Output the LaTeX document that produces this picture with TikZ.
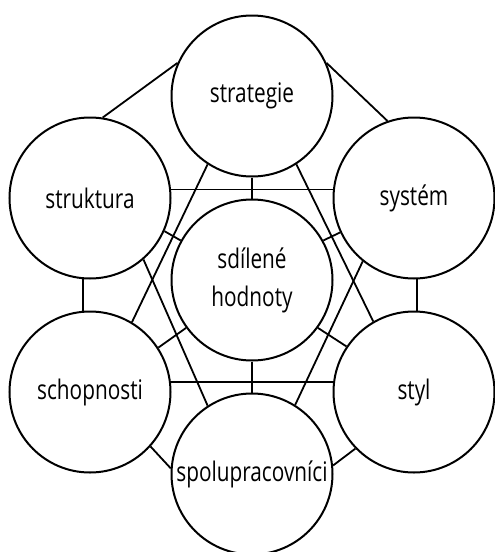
\documentclass[tikz,border=0pt]{standalone}
\usepackage{fontspec}
\setmainfont{Open Sans}[FakeStretch=0.77]
\usetikzlibrary{calc,positioning}

\begin{document}
\begin{tikzpicture}[x=1pt,y=-1pt]
    \def\circleSize{161pt}
    \def\labelFont{\fontsize{27}{38}\selectfont}

    \tikzstyle{element} = [draw, circle, line width=2pt, minimum size=\circleSize, inner sep=0pt, align=center, font=\labelFont]
    \tikzstyle{line} = [draw, line width=1.8pt]

    \useasboundingbox (0,0) rectangle (495,552);

    \node[element] (strategie) at (252,96) {strategie};
    \node[element] (struktura) at (90,198) {struktura};
    \node[element] (system) at (414,198) {systém};
    \node[element] (hodnoty) at (252,280) {sdílené\\hodnoty};
    \node[element] (schopnosti) at (90,392) {schopnosti};
    \node[element] (styl) at (414,392) {styl};
    \node[element] (spolupracovnici) at (252,474) {spolupracovníci};

    % outer ring
    \path [line] (strategie.156) -- (struktura.81);
    \path [line] (strategie.24) -- (system.109);
    \path [line] (struktura.265) -- (schopnosti.95);
    \path [line] (system.272) -- (styl.88);
    \path [line] (schopnosti.318) -- (spolupracovnici.176);
    \path [line] (styl.224) -- (spolupracovnici.6);

    % horizontals and verticals
    \path [line] (struktura.6) -- (system.174);
    \path [line] (schopnosti.7) -- (styl.173);
    \path [line] (strategie.270) -- (hodnoty.90);
    \path [line] (hodnoty.270) -- (spolupracovnici.90);

    % diagonals
    \path [line] (strategie.237) -- (schopnosti.59);
    \path [line] (strategie.303) -- (styl.120);
    \path [line] (struktura.311) -- (spolupracovnici.123);
    \path [line] (system.231) -- (spolupracovnici.58);

    % to the centre
    \path [line] (struktura.336) -- (hodnoty.151);
    \path [line] (system.205) -- (hodnoty.29);
    \path [line] (schopnosti.33) -- (hodnoty.216);
    \path [line] (styl.146) -- (hodnoty.324);
\end{tikzpicture}
\end{document}
